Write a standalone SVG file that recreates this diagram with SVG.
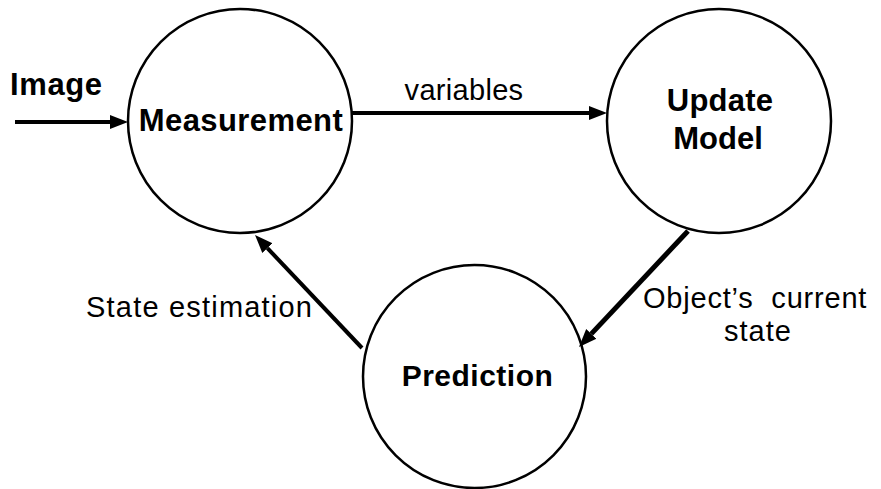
<svg xmlns="http://www.w3.org/2000/svg" width="881" height="489" viewBox="0 0 881 489">
  <defs>
    <style>
      .node { fill: #ffffff; stroke: #000000; stroke-width: 2.5; }
      .bold { font-family: "Liberation Sans", Arial, Helvetica, sans-serif; font-weight: bold; font-size: 31px; fill: #000000; }
      .lbl { font-family: "Liberation Sans", Arial, Helvetica, sans-serif; font-size: 29px; fill: #000000; }
      .edge { stroke: #000000; fill: none; stroke-linecap: butt; }
    </style>
    <marker id="arrow" markerUnits="userSpaceOnUse" markerWidth="20" markerHeight="16" refX="0" refY="8" orient="auto" viewBox="0 0 20 16">
      <path d="M0,1 L18,8 L0,15 z" fill="#000000"/>
    </marker>
  </defs>
  <rect width="881" height="489" fill="#ffffff"/>

  <g id="node-measurement">
    <circle class="node" cx="240" cy="121" r="112"/>
    <text class="bold" x="241" y="131" text-anchor="middle" style="letter-spacing:0.4px">Measurement</text>
  </g>
  <g id="node-update-model">
    <circle class="node" cx="719" cy="121" r="112"/>
    <text class="bold" x="720" y="111" text-anchor="middle" style="letter-spacing:0.2px">Update</text>
    <text class="bold" x="718" y="149" text-anchor="middle">Model</text>
  </g>
  <g id="node-prediction">
    <circle class="node" cx="474.5" cy="376.5" r="111.5"/>
    <text class="bold" x="477.5" y="386" text-anchor="middle" style="font-size:30px;letter-spacing:0.5px">Prediction</text>
  </g>

  <g id="connectors">
    <line class="edge" x1="15" y1="122" x2="110" y2="122" stroke-width="4" marker-end="url(#arrow)"/>
    <line class="edge" x1="351" y1="113" x2="589" y2="113" stroke-width="4" marker-end="url(#arrow)"/>
    <line class="edge" x1="362" y1="348" x2="267.4" y2="248.1" stroke-width="4" marker-end="url(#arrow)"/>
    <line class="edge" x1="688" y1="231" x2="591.3" y2="333.9" stroke-width="5" marker-end="url(#arrow)"/>
  </g>

  <g id="labels">
    <text class="bold" x="10" y="95" style="letter-spacing:0.6px">Image</text>
    <text class="lbl" x="464" y="100" text-anchor="middle" style="letter-spacing:0.3px">variables</text>
    <text class="lbl" x="86" y="317" style="letter-spacing:1.2px">State estimation</text>
    <text class="lbl" x="643" y="308" xml:space="preserve" style="letter-spacing:0.8px">Object’s  current</text>
    <text class="lbl" x="724" y="341" style="letter-spacing:1px">state</text>
  </g>
</svg>
